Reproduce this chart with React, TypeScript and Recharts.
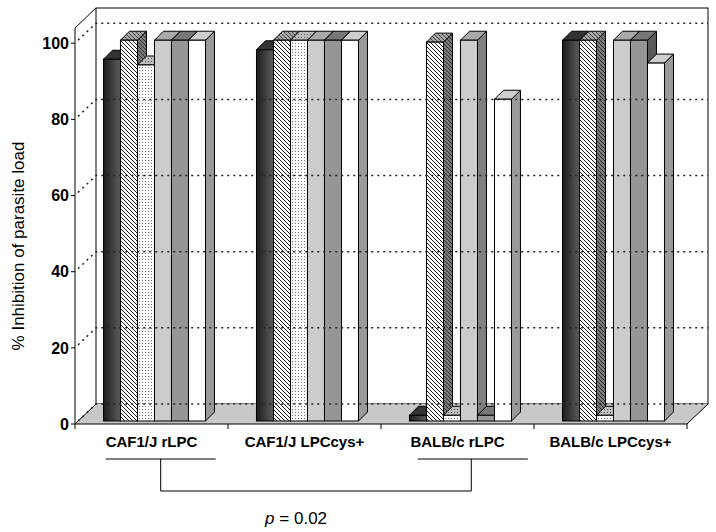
import React from "react";
import { BarChart, Bar, XAxis, YAxis, ReferenceArea, ReferenceLine } from "recharts";

// groups on the x axis
const groups = ["CAF1/J rLPC", "CAF1/J LPCcys+", "BALB/c rLPC", "BALB/c LPCcys+"];

// % inhibition, one list per series
const s1 = [95, 97.5, 1.5, 100];
const s2 = [100, 100, 99.5, 100];
const s3 = [93.5, 100, 1.5, 1.5];
const s4 = [100, 100, 100, 100];
const s5 = [100, 100, 1.5, 100];
const s6 = [100, 100, 84.5, 94];

const yTicks = [0, 20, 40, 60, 80, 100];

const data = groups.map((name, i) => ({
  name,
  s1: s1[i],
  s2: s2[i],
  s3: s3[i],
  s4: s4[i],
  s5: s5[i],
  s6: s6[i],
}));

const FONT = "'Liberation Sans', Arial, Helvetica, sans-serif";
// depth of the 3d box and of each bar
const DX = 21;
const DY = -20;
const D = 9;

function bar3d(front: string, top: string, side: string) {
  return (p: any) => {
    const { x, y, width: w, height: h } = p;
    if (w == null || h == null || isNaN(y)) return <g />;
    const bx = x + 4;
    const by = y - 3;
    return (
      <g>
        <polygon
          points={`${bx + w},${by} ${bx + w + D},${by - D} ${bx + w + D},${by + h - D} ${bx + w},${by + h}`}
          fill={side}
          stroke="#000"
          strokeWidth={1}
        />
        <polygon
          points={`${bx},${by} ${bx + D},${by - D} ${bx + w + D},${by - D} ${bx + w},${by}`}
          fill={top}
          stroke="#000"
          strokeWidth={1}
        />
        <rect x={bx} y={by} width={w} height={h} fill={front} stroke="#000" strokeWidth={1} />
      </g>
    );
  };
}

// bracket linking groups 1 and 3, in group widths from the left edge
const under1 = [0.2, 0.92];
const under3 = [2.24, 2.96];
const drop = [0.56, 2.59];
const pAt = 1.445;

const Box3D = (p: any) => {
  const { x, y, width: w, height: h } = p;
  if (x == null) return <g />;
  const b = y + h;
  const band = w / groups.length;
  const gx = (t: number) => x + t * band;
  const ly = b + 35;
  const by = b + 67;
  return (
    <g>
      <rect x={x + DX} y={y + DY} width={w} height={h} fill="#fff" stroke="#000" />
      <line x1={x} y1={y} x2={x + DX} y2={y + DY} stroke="#000" />
      <polygon
        points={`${x},${b} ${x + w},${b} ${x + w + DX},${b + DY} ${x + DX},${b + DY}`}
        fill="#c8c8c8"
        stroke="none"
      />
      <line x1={x} y1={b} x2={x + DX} y2={b + DY} stroke="#000" />
      <line x1={x + w} y1={b} x2={x + w + DX} y2={b + DY} stroke="#000" />
      {groups.map((_, i) => (
        <line key={i} x1={gx(i)} y1={b} x2={gx(i)} y2={b + 5} stroke="#000" />
      ))}
      <line x1={gx(groups.length)} y1={b} x2={gx(groups.length)} y2={b + 5} stroke="#000" />
      <line x1={gx(under1[0])} y1={ly} x2={gx(under1[1])} y2={ly} stroke="#000" />
      <line x1={gx(under3[0])} y1={ly} x2={gx(under3[1])} y2={ly} stroke="#000" />
      <polyline
        points={`${gx(drop[0])},${ly} ${gx(drop[0])},${by} ${gx(drop[1])},${by} ${gx(drop[1])},${ly}`}
        fill="none"
        stroke="#000"
      />
      <text
        x={gx(pAt)}
        y={b + 94}
        textAnchor="middle"
        dominantBaseline="central"
        fontSize={17}
        fontFamily={FONT}
        fill="#000"
      >
        <tspan fontStyle="italic">p</tspan> = 0.02
      </text>
    </g>
  );
};

const GridShape = (p: any) => {
  const { x1, y1, x2 } = p;
  if (x1 == null) return <g />;
  return (
    <polyline
      points={`${x1 + 3},${y1 - 3} ${x1 + DX},${y1 + DY} ${x2 + DX},${y1 + DY}`}
      fill="none"
      stroke="#222"
      strokeWidth={1.5}
      strokeDasharray="2 4"
    />
  );
};

const CatTick = (p: any) => (
  <text
    x={p.x}
    y={p.y}
    dy={15}
    textAnchor="middle"
    fontSize={15}
    fontWeight="bold"
    fontFamily={FONT}
    fill="#000"
  >
    {p.payload.value}
  </text>
);

const YTitle = (p: any) => {
  const vb = p.viewBox || {};
  const cx = vb.x + 3;
  const cy = vb.y + vb.height / 2 + 20;
  return (
    <text
      x={cx}
      y={cy}
      transform={`rotate(-90 ${cx} ${cy})`}
      textAnchor="middle"
      dominantBaseline="central"
      fontSize={17}
      fontFamily={FONT}
      fill="#000"
    >
      % Inhibition of parasite load
    </text>
  );
};

export default function App() {
  return (
    <div style={{ position: "absolute", left: 0, top: 0, background: "#fff" }}>
      <BarChart
        width={716}
        height={532}
        data={data}
        margin={{ top: 28, right: 29, bottom: 78, left: 15 }}
        barCategoryGap="16%"
        barGap={0}
        style={{ fontFamily: FONT }}
      >
        <defs>
          <linearGradient id="darkGrad" x1="0" y1="0" x2="1" y2="0">
            <stop offset="0%" stopColor="#1c1c1c" />
            <stop offset="100%" stopColor="#5c5c5c" />
          </linearGradient>
          <pattern id="hatch" width="4" height="4" patternUnits="userSpaceOnUse">
            <rect width="4" height="4" fill="#fff" />
            <path d="M-1,-1 L5,5 M3,-1 L5,1 M-1,3 L1,5" stroke="#000" strokeWidth={0.9} />
          </pattern>
          <pattern id="hatchTop" width="4" height="4" patternUnits="userSpaceOnUse">
            <rect width="4" height="4" fill="#a8a8a8" />
            <path d="M-1,-1 L5,5 M3,-1 L5,1 M-1,3 L1,5" stroke="#333" strokeWidth={0.9} />
          </pattern>
          <pattern id="hatchSide" width="4" height="4" patternUnits="userSpaceOnUse">
            <rect width="4" height="4" fill="#7a7a7a" />
            <path d="M-1,-1 L5,5 M3,-1 L5,1 M-1,3 L1,5" stroke="#222" strokeWidth={0.9} />
          </pattern>
          <pattern id="dots" width="3" height="3" patternUnits="userSpaceOnUse">
            <rect width="3" height="3" fill="#fff" />
            <rect x="1" y="1" width="1" height="1" fill="#777" />
          </pattern>
          <pattern id="dotsTop" width="3" height="3" patternUnits="userSpaceOnUse">
            <rect width="3" height="3" fill="#bdbdbd" />
            <rect x="1" y="1" width="1" height="1" fill="#555" />
          </pattern>
          <pattern id="dotsSide" width="3" height="3" patternUnits="userSpaceOnUse">
            <rect width="3" height="3" fill="#8a8a8a" />
            <rect x="1" y="1" width="1" height="1" fill="#444" />
          </pattern>
        </defs>

        <XAxis
          dataKey="name"
          interval={0}
          axisLine={{ stroke: "#000" }}
          tickLine={false}
          height={30}
          tick={<CatTick />}
        />
        <YAxis
          domain={[0, 104]}
          ticks={yTicks}
          width={60}
          tickSize={4}
          axisLine={{ stroke: "#000" }}
          tickLine={{ stroke: "#000" }}
          tick={{ fill: "#000", fontSize: 16, fontWeight: "bold", fontFamily: FONT }}
          label={<YTitle />}
        />

        <ReferenceArea y1={0} y2={104} ifOverflow="visible" shape={Box3D} />
        {yTicks.map((v) => (
          <ReferenceLine key={v} y={v} ifOverflow="visible" shape={GridShape} />
        ))}

        <Bar dataKey="s1" isAnimationActive={false} shape={bar3d("url(#darkGrad)", "#333", "#1e1e1e")} />
        <Bar dataKey="s2" isAnimationActive={false} shape={bar3d("url(#hatch)", "url(#hatchTop)", "url(#hatchSide)")} />
        <Bar dataKey="s3" isAnimationActive={false} shape={bar3d("url(#dots)", "url(#dotsTop)", "url(#dotsSide)")} />
        <Bar dataKey="s4" isAnimationActive={false} shape={bar3d("#cccccc", "#a9a9a9", "#808080")} />
        <Bar dataKey="s5" isAnimationActive={false} shape={bar3d("#969696", "#777777", "#5a5a5a")} />
        <Bar dataKey="s6" isAnimationActive={false} shape={bar3d("#ffffff", "#cfcfcf", "#9a9a9a")} />
      </BarChart>
    </div>
  );
}
